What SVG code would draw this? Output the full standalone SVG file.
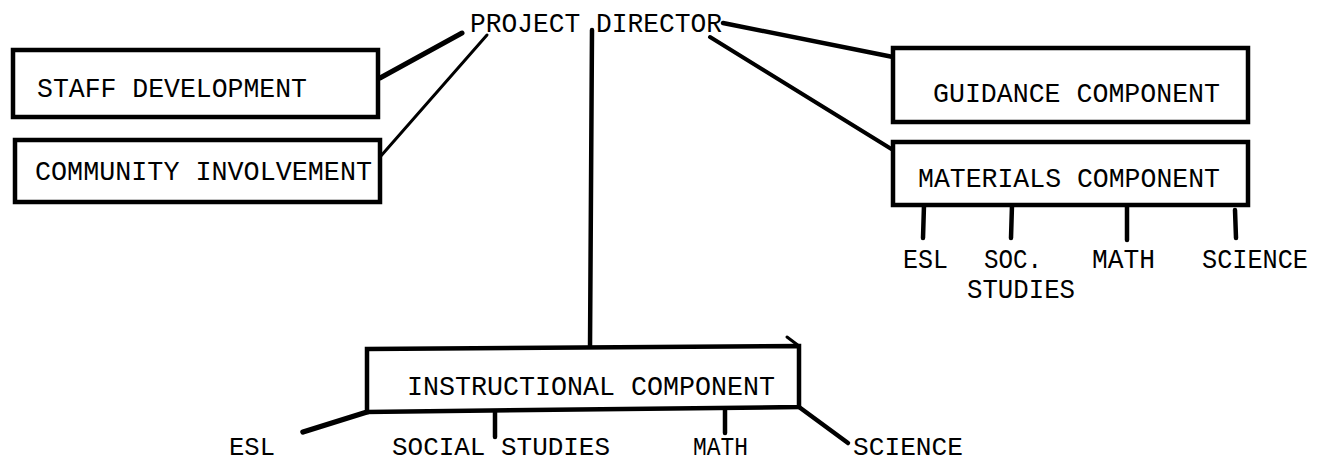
<svg xmlns="http://www.w3.org/2000/svg" width="1319" height="464" viewBox="0 0 1319 464">
<style>
.box{fill:#fff;stroke:#000;stroke-width:4.5;stroke-linejoin:miter}
.t{font-family:"Liberation Mono","Courier New",monospace;font-size:28px;fill:#000}
.b{font-size:26px}
.c{stroke:#000;stroke-linecap:round;fill:none}
</style>
<rect width="1319" height="464" fill="#fff"/>
<g id="connectors">
<line class="c" x1="380" y1="78" x2="462" y2="33" stroke-width="5"/>
<line class="c" x1="380" y1="157" x2="487" y2="35" stroke-width="3"/>
<line class="c" x1="592" y1="30" x2="590" y2="349" stroke-width="4.5"/>
<line class="c" x1="723" y1="23" x2="893" y2="57" stroke-width="4.5"/>
<line class="c" x1="710" y1="37" x2="893" y2="150" stroke-width="4"/>
<line class="c" x1="924" y1="205" x2="923" y2="238" stroke-width="4.5"/>
<line class="c" x1="1012" y1="205" x2="1011" y2="238" stroke-width="4.5"/>
<line class="c" x1="1127" y1="205" x2="1127" y2="240" stroke-width="4.5"/>
<line class="c" x1="1235" y1="210" x2="1236" y2="238" stroke-width="4.5"/>
<line class="c" x1="367" y1="412" x2="303" y2="432" stroke-width="5.5"/>
<line class="c" x1="495" y1="412" x2="495" y2="437" stroke-width="4.5"/>
<line class="c" x1="725" y1="408" x2="725" y2="433" stroke-width="4.5"/>
<line class="c" x1="799" y1="407" x2="848" y2="443" stroke-width="4.5"/>
<line class="c" x1="787" y1="337" x2="799" y2="346" stroke-width="3"/>
</g>
<g id="director">
<text class="t" x="470" y="32" textLength="252" lengthAdjust="spacingAndGlyphs">PROJECT DIRECTOR</text>
</g>
<g id="staff">
<rect class="box" x="13" y="50" width="365" height="67"/>
<text class="t" x="37" y="97" textLength="270" lengthAdjust="spacingAndGlyphs">STAFF DEVELOPMENT</text>
</g>
<g id="community">
<rect class="box" x="15" y="140" width="365" height="62"/>
<text class="t" x="35" y="180" textLength="337" lengthAdjust="spacingAndGlyphs">COMMUNITY INVOLVEMENT</text>
</g>
<g id="guidance">
<rect class="box" x="893" y="48" width="355" height="74"/>
<text class="t" x="933" y="102" textLength="287" lengthAdjust="spacingAndGlyphs">GUIDANCE COMPONENT</text>
</g>
<g id="materials">
<rect class="box" x="893" y="142" width="355" height="63"/>
<text class="t" x="918" y="187" textLength="302" lengthAdjust="spacingAndGlyphs">MATERIALS COMPONENT</text>
</g>
<g id="mat-esl"><text class="t" x="903" y="268" textLength="45" lengthAdjust="spacingAndGlyphs">ESL</text></g>
<g id="mat-soc"><text class="t" x="984" y="268" textLength="58" lengthAdjust="spacingAndGlyphs">SOC.</text><text class="t" x="967" y="298" textLength="108" lengthAdjust="spacingAndGlyphs">STUDIES</text></g>
<g id="mat-math"><text class="t" x="1092" y="268" textLength="63" lengthAdjust="spacingAndGlyphs">MATH</text></g>
<g id="mat-science"><text class="t" x="1202" y="268" textLength="106" lengthAdjust="spacingAndGlyphs">SCIENCE</text></g>
<g id="instructional">
<polygon class="box" points="367,349 799,346 799,407 367,412"/>
<text class="t" x="407" y="395" textLength="368" lengthAdjust="spacingAndGlyphs">INSTRUCTIONAL COMPONENT</text>
</g>
<g id="ins-esl"><text class="t b" x="229" y="455" textLength="46" lengthAdjust="spacingAndGlyphs">ESL</text></g>
<g id="ins-soc"><text class="t b" x="392" y="455" textLength="218" lengthAdjust="spacingAndGlyphs">SOCIAL STUDIES</text></g>
<g id="ins-math"><text class="t b" x="693" y="455" textLength="55" lengthAdjust="spacingAndGlyphs">MATH</text></g>
<g id="ins-science"><text class="t b" x="853" y="455" textLength="110" lengthAdjust="spacingAndGlyphs">SCIENCE</text></g>
</svg>
